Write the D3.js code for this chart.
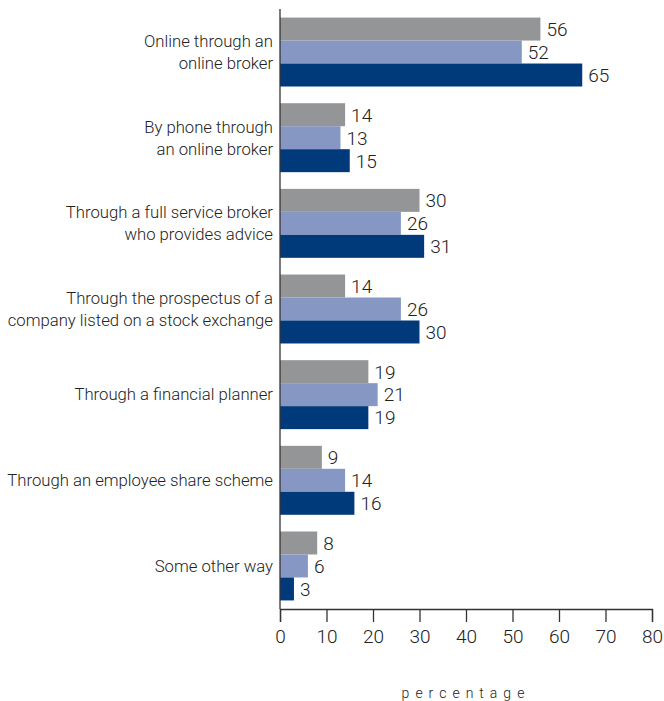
<!DOCTYPE html>
<html>
<head>
<meta charset="utf-8">
<script src="https://cdn.jsdelivr.net/npm/d3@7"></script>
<style>
  html, body { margin: 0; padding: 0; background: #fff; }
  svg { display: block; }
  text { font-family: "Roboto", "DejaVu Sans Condensed", sans-serif; font-weight: 300; fill: #222; }
</style>
</head>
<body>
<svg id="chart" width="664" height="701"></svg>
<script>
// Ways of buying shares, three survey series (percentage of respondents)
const categories = [
  ["Online through an", "online broker"],
  ["By phone through", "an online broker"],
  ["Through a full service broker", "who provides advice"],
  ["Through the prospectus of a", "company listed on a stock exchange"],
  ["Through a financial planner"],
  ["Through an employee share scheme"],
  ["Some other way"]
];
const seriesFirst  = [56, 14, 30, 14, 19, 9, 8];
const seriesSecond = [52, 13, 26, 26, 21, 14, 6];
const seriesThird  = [65, 15, 31, 30, 19, 16, 3];
const seriesColors = ["#949597", "#8797c3", "#003a7a"];
const xTicks = [0, 10, 20, 30, 40, 50, 60, 70, 80];
const xTitle = "percentage";

const series = [seriesFirst, seriesSecond, seriesThird];
const svg = d3.select("#chart");

const x = d3.scaleLinear().domain([0, 80]).range([280, 652]);
const y = d3.scaleBand()
  .domain(d3.range(categories.length))
  .range([9, 609])
  .paddingInner(0.195)
  .paddingOuter(0.1);
const ySub = d3.scaleBand()
  .domain(d3.range(series.length))
  .range([0, y.bandwidth()]);

// bars, value labels and category labels, one group per category
const groups = svg.append("g").selectAll("g")
  .data(categories)
  .join("g")
  .attr("transform", (d, i) => `translate(0,${y(i)})`);

groups.each(function(cat, i) {
  const g = d3.select(this);
  series.forEach((s, j) => {
    g.append("rect")
      .attr("x", x(0))
      .attr("y", ySub(j))
      .attr("width", x(s[i]) - x(0))
      .attr("height", ySub.bandwidth())
      .attr("fill", seriesColors[j]);
    g.append("text")
      .attr("x", x(s[i]) + 6)
      .attr("y", ySub(j) + ySub.bandwidth() / 2)
      .attr("dy", "0.36em")
      .style("font-size", "19px")
      .text(s[i]);
  });
  const lh = 22;
  const cy = y.bandwidth() / 2;
  const t = g.append("text")
    .attr("text-anchor", "end")
    .style("font-size", "16.7px");
  cat.forEach((ln, k) => {
    t.append("tspan")
      .attr("x", 273)
      .attr("y", cy + (k - (cat.length - 1) / 2) * lh)
      .attr("dy", "0.35em")
      .text(ln);
  });
});

// x axis
const axisG = svg.append("g").attr("transform", "translate(0,609)");
axisG.call(d3.axisBottom(x).tickValues(xTicks).tickSize(13).tickPadding(8).tickFormat(d3.format("d")));
axisG.select(".domain").attr("stroke", "#333").attr("stroke-width", 1.3);
axisG.selectAll(".tick line").attr("stroke", "#333").attr("stroke-width", 1.3);
axisG.selectAll(".tick text")
  .style("font-size", "19px")
  .style("font-weight", "300")
  .attr("fill", "#222")
  .style("font-family", "Roboto, \"DejaVu Sans Condensed\", sans-serif");

// y axis line
svg.append("line")
  .attr("x1", x(0)).attr("x2", x(0))
  .attr("y1", 9).attr("y2", 609)
  .attr("stroke", "#333").attr("stroke-width", 1.3);

svg.append("text")
  .attr("x", 466)
  .attr("y", 698)
  .attr("text-anchor", "middle")
  .style("font-size", "14px")
  .style("letter-spacing", "6px")
  .text(xTitle);
</script>
</body>
</html>
